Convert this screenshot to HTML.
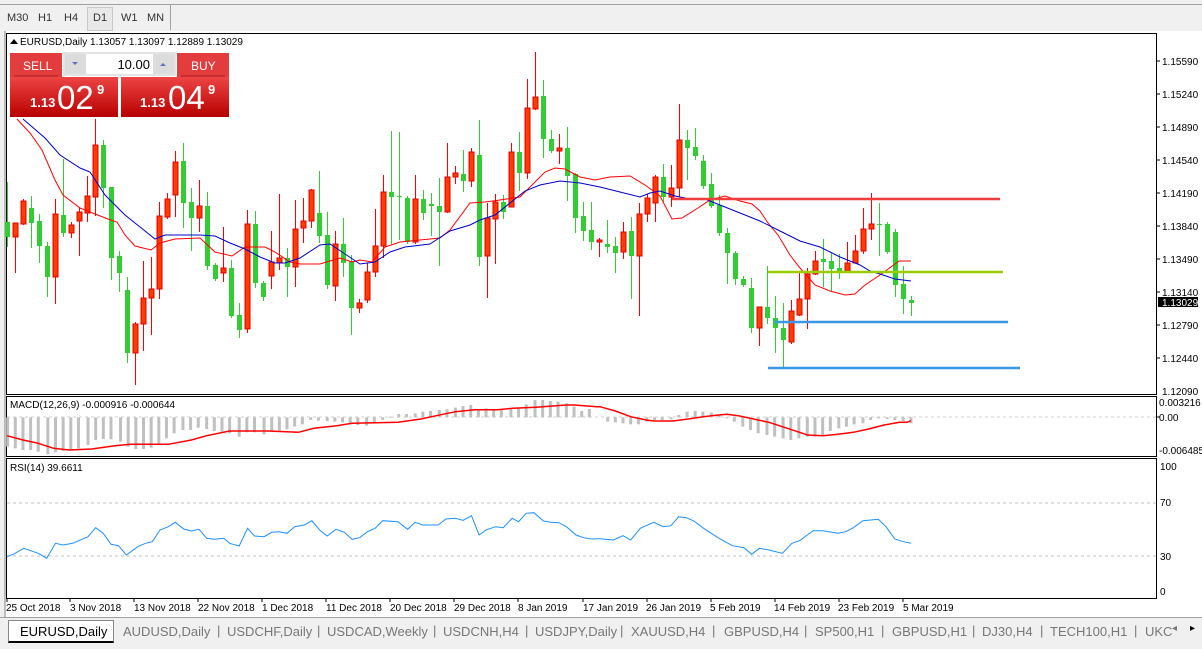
<!DOCTYPE html>
<html><head><meta charset="utf-8">
<style>
html,body{margin:0;padding:0;}
body{width:1202px;height:648px;overflow:hidden;background:#f0f0f0;font-family:"Liberation Sans","DejaVu Sans",sans-serif;position:relative;}
.tb{position:absolute;top:4px;left:0;height:26px;width:1202px;border-top:1px solid #a0a0a0;background:#f0f0f0;}
.tb span{position:absolute;top:7px;font-size:11px;color:#333;}
svg{position:absolute;left:0;top:0;}
</style></head><body>
<div class="tb">
<span style="left:7px">M30</span><span style="left:38px">H1</span><span style="left:64px">H4</span>
<div style="position:absolute;left:87px;top:2px;width:24px;height:22px;border:1px solid #c8c8c8;background:#e8e8e8"></div>
<span style="left:93px">D1</span><span style="left:121px">W1</span><span style="left:147px">MN</span>
<div style="position:absolute;left:170px;top:0;width:1px;height:25px;background:#a0a0a0"></div>
</div>
<svg width="1202" height="648" viewBox="0 0 1202 648" id="s" font-family="Liberation Sans, DejaVu Sans, sans-serif" font-size="10">
<rect x="0" y="31" width="1202" height="586" fill="#fff"/>
<rect x="0" y="31" width="5" height="586" fill="#f0f0f0"/>
<line x1="5" y1="31" x2="5" y2="617" stroke="#808080"/>
<rect x="6.5" y="33.5" width="1150" height="361" fill="none" stroke="#000"/>
<rect x="6.5" y="396.5" width="1150" height="60" fill="none" stroke="#000"/>
<rect x="6.5" y="458.5" width="1150" height="140" fill="none" stroke="#000"/>
<g id="g"></g>
<g fill="#000" font-size="10">
<text x="1162" y="65">1.15590</text><text x="1162" y="98">1.15240</text><text x="1162" y="131">1.14890</text>
<text x="1162" y="164">1.14540</text><text x="1162" y="197">1.14190</text><text x="1162" y="230">1.13840</text>
<text x="1162" y="263">1.13490</text><text x="1162" y="296">1.13140</text><text x="1162" y="329">1.12790</text>
<text x="1162" y="362">1.12440</text><text x="1162" y="395">1.12090</text>
<rect x="1158" y="297" width="40" height="10" fill="#000"/>
<text x="1162" y="306" fill="#fff">1.13029</text>
<text x="1159" y="406">0.003216</text><text x="1159" y="421">0.00</text><text x="1159" y="454">-0.006485</text>
<text x="1160" y="470">100</text><text x="1160" y="506">70</text><text x="1160" y="560">30</text><text x="1160" y="595">0</text>
</g>
<g stroke="#000"><line x1="1157" y1="61" x2="1160" y2="61"/><line x1="1157" y1="94" x2="1160" y2="94"/><line x1="1157" y1="127" x2="1160" y2="127"/><line x1="1157" y1="160" x2="1160" y2="160"/><line x1="1157" y1="193" x2="1160" y2="193"/><line x1="1157" y1="226" x2="1160" y2="226"/><line x1="1157" y1="259" x2="1160" y2="259"/><line x1="1157" y1="292" x2="1160" y2="292"/><line x1="1157" y1="325" x2="1160" y2="325"/><line x1="1157" y1="358" x2="1160" y2="358"/><line x1="1157" y1="417" x2="1160" y2="417"/></g>
<g fill="#000" font-size="10">
<text x="6" y="611">25 Oct 2018</text><text x="70" y="611">3 Nov 2018</text><text x="134" y="611">13 Nov 2018</text>
<text x="198" y="611">22 Nov 2018</text><text x="262" y="611">1 Dec 2018</text><text x="326" y="611">11 Dec 2018</text>
<text x="390" y="611">20 Dec 2018</text><text x="454" y="611">29 Dec 2018</text><text x="518" y="611">8 Jan 2019</text>
<text x="583" y="611">17 Jan 2019</text><text x="646" y="611">26 Jan 2019</text><text x="710" y="611">5 Feb 2019</text>
<text x="774" y="611">14 Feb 2019</text><text x="838" y="611">23 Feb 2019</text><text x="903" y="611">5 Mar 2019</text>
</g>
<g stroke="#000"><line x1="7" y1="599" x2="7" y2="602"/><line x1="70" y1="599" x2="70" y2="602"/><line x1="134" y1="599" x2="134" y2="602"/><line x1="198" y1="599" x2="198" y2="602"/><line x1="262" y1="599" x2="262" y2="602"/><line x1="326" y1="599" x2="326" y2="602"/><line x1="390" y1="599" x2="390" y2="602"/><line x1="454" y1="599" x2="454" y2="602"/><line x1="518" y1="599" x2="518" y2="602"/><line x1="583" y1="599" x2="583" y2="602"/><line x1="647" y1="599" x2="647" y2="602"/><line x1="711" y1="599" x2="711" y2="602"/><line x1="775" y1="599" x2="775" y2="602"/><line x1="839" y1="599" x2="839" y2="602"/><line x1="903" y1="599" x2="903" y2="602"/></g>
<text x="20" y="45" font-size="10" fill="#000">EURUSD,Daily  1.13057 1.13097 1.12889 1.13029</text>
<path d="M10 44 L14 39 L18 44Z" fill="#000"/>
<text x="10" y="408" font-size="10" fill="#000">MACD(12,26,9) -0.000916 -0.000644</text>
<text x="10" y="471" font-size="10" fill="#000">RSI(14) 39.6611</text>
<defs><linearGradient id="rg" x1="0" y1="0" x2="0" y2="1"><stop offset="0" stop-color="#ee4444"/><stop offset="1" stop-color="#b80000"/></linearGradient></defs>
<rect x="10" y="53" width="52" height="24" fill="#e23c3c"/>
<line x1="14" y1="76" x2="58" y2="76" stroke="#b02020"/>
<text x="23" y="70" font-size="12" fill="#fff">SELL</text>
<rect x="64" y="53" width="111" height="22" fill="#fff" stroke="#c8c8c8"/>
<rect x="65" y="54" width="21" height="20" fill="#dcdcdc"/><path d="M72 62 L78 62 L75 65Z" fill="#6070c0"/>
<rect x="153" y="54" width="21" height="20" fill="#dcdcdc"/><path d="M160 66 L166 66 L163 63Z" fill="#6070c0"/>
<text x="150" y="69" font-size="13" fill="#000" text-anchor="end">10.00</text>
<rect x="177" y="53" width="52" height="24" fill="#e23c3c"/>
<line x1="181" y1="76" x2="225" y2="76" stroke="#b02020"/>
<text x="191" y="70" font-size="12" fill="#fff">BUY</text>
<rect x="10" y="77" width="108" height="40" fill="url(#rg)"/>
<rect x="121" y="77" width="108" height="40" fill="url(#rg)"/>
<text x="30" y="107" font-size="13" font-weight="bold" fill="#fff">1.13</text>
<text x="57" y="109" font-size="33" fill="#fff">02</text>
<text x="97" y="94" font-size="13" font-weight="bold" fill="#fff">9</text>
<text x="140" y="107" font-size="13" font-weight="bold" fill="#fff">1.13</text>
<text x="168" y="109" font-size="33" fill="#fff">04</text>
<text x="208" y="94" font-size="13" font-weight="bold" fill="#fff">9</text>
</svg>
<div style="position:absolute;left:0;top:617px;width:1202px;height:31px;background:#f0f0f0;border-top:1px solid #a0a0a0;font-size:13px;color:#777;">
<div style="position:absolute;left:8px;top:2px;width:104px;height:20px;background:#fff;border:1px solid #888;border-bottom:2px solid #000;"></div>
<span style="position:absolute;left:20px;top:6px;color:#000">EURUSD,Daily</span>
<span style="position:absolute;left:123px;top:6px">AUDUSD,Daily</span><span style="position:absolute;left:217px;top:5px">|</span>
<span style="position:absolute;left:227px;top:6px">USDCHF,Daily</span><span style="position:absolute;left:317px;top:5px">|</span>
<span style="position:absolute;left:327px;top:6px">USDCAD,Weekly</span><span style="position:absolute;left:433px;top:5px">|</span>
<span style="position:absolute;left:443px;top:6px">USDCNH,H4</span><span style="position:absolute;left:525px;top:5px">|</span>
<span style="position:absolute;left:535px;top:6px">USDJPY,Daily</span><span style="position:absolute;left:620px;top:5px">|</span>
<span style="position:absolute;left:631px;top:6px">XAUUSD,H4</span><span style="position:absolute;left:712px;top:5px">|</span>
<span style="position:absolute;left:724px;top:6px">GBPUSD,H4</span><span style="position:absolute;left:804px;top:5px">|</span>
<span style="position:absolute;left:815px;top:6px">SP500,H1</span><span style="position:absolute;left:881px;top:5px">|</span>
<span style="position:absolute;left:892px;top:6px">GBPUSD,H1</span><span style="position:absolute;left:972px;top:5px">|</span>
<span style="position:absolute;left:982px;top:6px">DJ30,H4</span><span style="position:absolute;left:1040px;top:5px">|</span>
<span style="position:absolute;left:1050px;top:6px">TECH100,H1</span><span style="position:absolute;left:1134px;top:5px">|</span>
<span style="position:absolute;left:1145px;top:6px">UKC</span>
<span style="position:absolute;left:1172px;top:5px;font-size:10px">◂</span><span style="position:absolute;left:1190px;top:5px;font-size:10px;color:#000">▸</span>
</div>
<script>
var NS="http://www.w3.org/2000/svg",g=document.getElementById("g");
function el(t,a){var e=document.createElementNS(NS,t);for(var k in a)e.setAttribute(k,a[k]);g.appendChild(e);return e;}
function pl(pts,c,w){var s=pts.map(function(p){return p[0].toFixed(1)+","+p[1].toFixed(1)}).join(" ");el("polyline",{points:s,fill:"none",stroke:c,"stroke-width":w||1});}
var K6=2.613,K7=2.605;
el("line",{x1:7,y1:503,x2:1156,y2:503,stroke:"#c0c0c0","stroke-dasharray":"3,3"});
el("line",{x1:7,y1:556,x2:1156,y2:556,stroke:"#c0c0c0","stroke-dasharray":"3,3"});
el("line",{x1:7,y1:417,x2:1156,y2:417,stroke:"#d0d0d0","stroke-dasharray":"3,3"});
var h6=[[20,155],[40,160],[60,165],[80,165],[100,170],[125,178],[145,172],[165,168],[185,165],[205,160],[230,150],[250,135],[270,132],[290,133],[315,140],[335,155],[355,162],[375,162],[395,158],[415,148],[435,130],[455,115],[478,105],[498,105],[518,98],[540,102],[560,108],[580,110],[600,115],[625,125],[645,112],[665,112],[690,118],[710,110],[730,107],[750,103],[770,95],[790,88],[812,75],[832,77],[855,78],[875,80],[895,82],[915,85],[935,90],[958,92],[978,85],[1000,75],[1020,65],[1042,57],[1062,57],[1085,55],[1105,50],[1125,48],[1148,45],[1168,43],[1190,38],[1210,33],[1230,30],[1250,42],[1270,40],[1290,42],[1310,43],[1335,42],[1355,40],[1375,28],[1398,15],[1418,15],[1438,18],[1458,20],[1480,25],[1500,35],[1520,48],[1540,42]];
var h7=[[20,80],[40,82],[60,85],[80,88],[100,88],[122,80],[142,75],[162,75],[185,73],[205,60],[227,50],[248,48],[268,50],[290,53],[310,58],[330,70],[350,80],[372,95],[392,105],[412,115],[435,120],[455,125],[477,130],[497,135],[518,130],[540,125],[560,125],[580,120],[600,108],[622,100],[642,95],[662,88],[685,85],[705,75],[725,70],[748,72],[768,75],[790,78],[810,85]];
function bar(x,zy){var y=395+zy/3,z=417.3;el("rect",{x:x-1.5,y:Math.min(y,z),width:3,height:Math.max(1,Math.abs(y-z)),fill:"#c0c0c0"});}
h6.forEach(function(p){bar(p[0]/K6,p[1]);});
h7.forEach(function(p){bar(600+p[0]/K7,p[1]);});
var s6=[[18,122],[60,135],[100,145],[140,160],[180,165],[240,162],[300,152],[340,148],[440,148],[500,135],[540,122],[600,108],[700,108],[780,112],[820,100],[880,92],[920,85],[1040,82],[1100,72],[1140,62],[1190,50],[1240,44],[1300,44],[1340,40],[1400,37],[1480,30],[1500,30],[1560,35]].map(function(p){return[p[0]/K6,395+p[1]/3]});
var s7=[[0,35],[40,48],[80,65],[120,75],[140,78],[190,78],[230,72],[270,65],[290,62],[330,58],[360,62],[400,72],[440,82],[480,97],[520,112],[540,120],[580,122],[620,118],[660,112],[700,102],[740,90],[780,82],[800,82],[810,77]].map(function(p){return[600+p[0]/K7,395+p[1]/3]});
pl(s6.concat(s7),"#ff0000",1.5);
var r6=[[18,485],[35,478],[62,460],[100,475],[122,490],[145,445],[165,450],[190,445],[230,425],[250,398],[270,415],[290,448],[310,452],[330,480],[360,455],[380,445],[398,440],[418,405],[440,395],[458,382],[480,402],[500,408],[520,403],[540,430],[560,433],[585,430],[600,445],[625,453],[647,400],[665,423],[690,425],[710,412],[730,410],[750,415],[770,395],[795,390],[815,377],[835,405],[855,423],[878,403],[900,412],[920,433],[940,428],[960,410],[980,400],[1000,377],[1040,380],[1065,403],[1085,382],[1105,390],[1145,390],[1165,372],[1190,370],[1210,376],[1232,362],[1252,420],[1270,405],[1295,395],[1315,398],[1338,370],[1355,380],[1375,355],[1395,353],[1420,378],[1440,382],[1460,383],[1480,395],[1505,420],[1525,428],[1545,432],[1560,431]].map(function(p){return[p[0]/K6,395+p[1]/3]});
var r7=[[0,431],[35,435],[60,422],[80,435],[105,400],[140,382],[165,395],[185,392],[205,365],[225,368],[245,378],[270,400],[310,430],[345,452],[375,458],[395,478],[415,460],[440,465],[475,475],[500,445],[520,437],[555,407],[580,407],[620,415],[640,410],[660,398],[685,377],[725,373],[745,395],[768,432],[790,440],[810,445]].map(function(p){return[600+p[0]/K7,395+p[1]/3]});
pl(r6.concat(r7),"#1e90ff",1);
var C=[[222,237,182,247,"g"],[223,237,223,273,"r"],[201,224,199,225,"r"],[208,223,196,248,"g"],[221,246,214,263,"g"],[246,277,242,297,"g"],[214,277,199,304,"r"],[215,233,159,237,"g"],[225,233,222,238,"r"],[212,221,207,256,"r"],[196,213,176,222,"r"],[145,197,119,216,"r"],[145,188,140,208,"g"],[187,258,187,280,"g"],[256,273,251,292,"g"],[290,353,277,363,"g"],[324,353,322,385,"r"],[298,324,261,351,"r"],[289,298,257,335,"r"],[216,289,202,299,"r"],[199,217,193,219,"r"],[162,195,151,217,"r"],[161,203,143,228,"g"],[202,218,188,251,"g"],[206,218,180,232,"r"],[206,266,192,270,"g"],[265,279,263,281,"g"],[268,273,227,282,"r"],[268,316,260,318,"g"],[315,330,303,338,"g"],[224,329,210,333,"r"],[224,283,211,288,"g"],[283,297,281,301,"g"],[262,276,231,289,"r"],[258,263,194,270,"r"],[258,267,248,297,"g"],[229,267,200,287,"r"],[221,228,198,243,"r"],[190,221,189,228,"r"],[213,236,171,243,"g"],[235,285,212,289,"g"],[244,286,231,301,"r"],[244,263,218,277,"g"],[261,308,255,335,"g"],[303,308,299,313,"r"],[272,300,263,303,"r"],[246,272,209,277,"r"],[192,246,175,258,"r"],[192,197,131,245,"g"],[196,197,132,240,"g"],[198,242,196,244,"g"],[199,242,175,244,"r"],[199,213,190,220,"g"],[204,206,193,236,"g"],[206,212,178,266,"g"],[177,212,143,213,"r"],[173,177,166,184,"r"],[174,181,150,192,"g"],[152,181,148,187,"r"],[155,257,120,266,"g"],[218,256,203,298,"r"],[202,219,194,264,"r"],[202,212,195,219,"g"],[152,207,143,207,"r"],[152,173,132,191,"g"],[108,173,79,179,"r"],[97,109,52,110,"r"],[96,139,80,158,"g"],[139,151,130,153,"g"],[148,151,134,164,"r"],[148,176,127,201,"g"],[174,218,173,233,"g"],[216,231,202,241,"g"],[230,242,202,250,"g"],[240,242,238,257,"r"],[244,247,220,253,"g"],[246,253,237,273,"g"],[232,252,222,259,"r"],[231,256,217,299,"g"],[214,256,203,316,"r"],[198,214,194,222,"r"],[177,203,175,222,"r"],[177,197,164,202,"g"],[188,197,165,207,"r"],[140,188,104,197,"r"],[140,148,130,180,"g"],[147,156,128,160,"g"],[161,186,155,189,"g"],[184,206,173,208,"g"],[205,233,195,236,"g"],[233,253,228,284,"g"],[253,279,251,285,"g"],[279,285,276,287,"g"],[288,328,278,333,"g"],[307,328,307,346,"r"],[307,318,266,324,"g"],[318,328,296,353,"g"],[328,340,303,367,"g"],[311,342,300,344,"r"],[299,315,273,316,"r"],[274,299,268,329,"r"],[261,274,251,275,"r"],[259,262,239,287,"g"],[261,269,253,291,"g"],[268,272,254,279,"g"],[263,271,242,273,"r"],[251,263,235,263,"r"],[229,251,208,254,"r"],[224,229,193,240,"r"],[224,225,203,256,"g"],[224,252,222,254,"g"],[232,285,229,297,"g"],[284,299,266,314,"g"],[300,303,296,316,"g"]];
C.forEach(function(c,i){var x=7+8*i;var fill=c[4]=="g"?"#32cd32":"#ff3c00";
el("line",{x1:x+0.5,y1:c[2],x2:x+0.5,y2:c[3],stroke:c[4]=="g"?"#32cd32":"#ff0000"});
el("rect",{x:x-2,y:c[0],width:5,height:Math.max(1,c[1]-c[0]),fill:fill,stroke:c[4]=="g"?"none":"#e00000","stroke-width":1});});
pl([[17,119],[30,133],[42,150],[55,180],[63,195],[80,208],[95,214],[108,219],[117,222],[125,235],[135,246],[151,250],[160,243],[175,239],[200,238],[215,252],[232,256],[245,247],[265,247],[275,252],[290,262],[300,264],[320,264],[340,258],[352,262],[360,260],[372,262],[385,247],[400,242],[420,240],[440,238],[450,230],[470,203],[485,202],[500,200],[520,197],[535,182],[545,172],[555,168],[565,169],[580,177],[595,180],[610,177],[630,176],[645,185],[660,196],[672,219],[682,218],[698,208],[710,200],[725,196],[740,201],[752,204],[760,211],[768,223],[778,235],[790,255],[800,268],[815,285],[830,291],[845,295],[855,294],[865,285],[880,275],[895,264],[899,261],[911,261]],"#ff0000",1);
pl([[23,119],[45,138],[60,155],[80,168],[90,172],[105,195],[125,215],[145,231],[155,239],[165,235],[180,235],[200,235],[215,236],[230,243],[245,249],[260,257],[275,263],[285,263],[300,258],[320,245],[330,244],[345,254],[360,264],[375,262],[390,252],[405,247],[430,244],[450,231],[470,225],[480,220],[495,215],[510,203],[525,191],[540,185],[560,181],[580,183],[600,187],[620,192],[640,197],[650,193],[660,191],[675,196],[690,199],[705,199],[720,205],[740,213],[760,221],[780,231],[790,236],[800,241],[820,247],[840,257],[860,265],[870,271],[880,274],[895,279],[911,281]],"#0000cc",1);
el("line",{x1:672,y1:199,x2:1000,y2:199,stroke:"#f03c3c","stroke-width":2.5});
el("line",{x1:768,y1:272,x2:1003,y2:272,stroke:"#9acd00","stroke-width":2.5});
el("line",{x1:775,y1:322,x2:1008,y2:322,stroke:"#3c96e6","stroke-width":2.5});
el("line",{x1:768,y1:368,x2:1020,y2:368,stroke:"#3c96e6","stroke-width":2.5});
</script>
</body></html>
